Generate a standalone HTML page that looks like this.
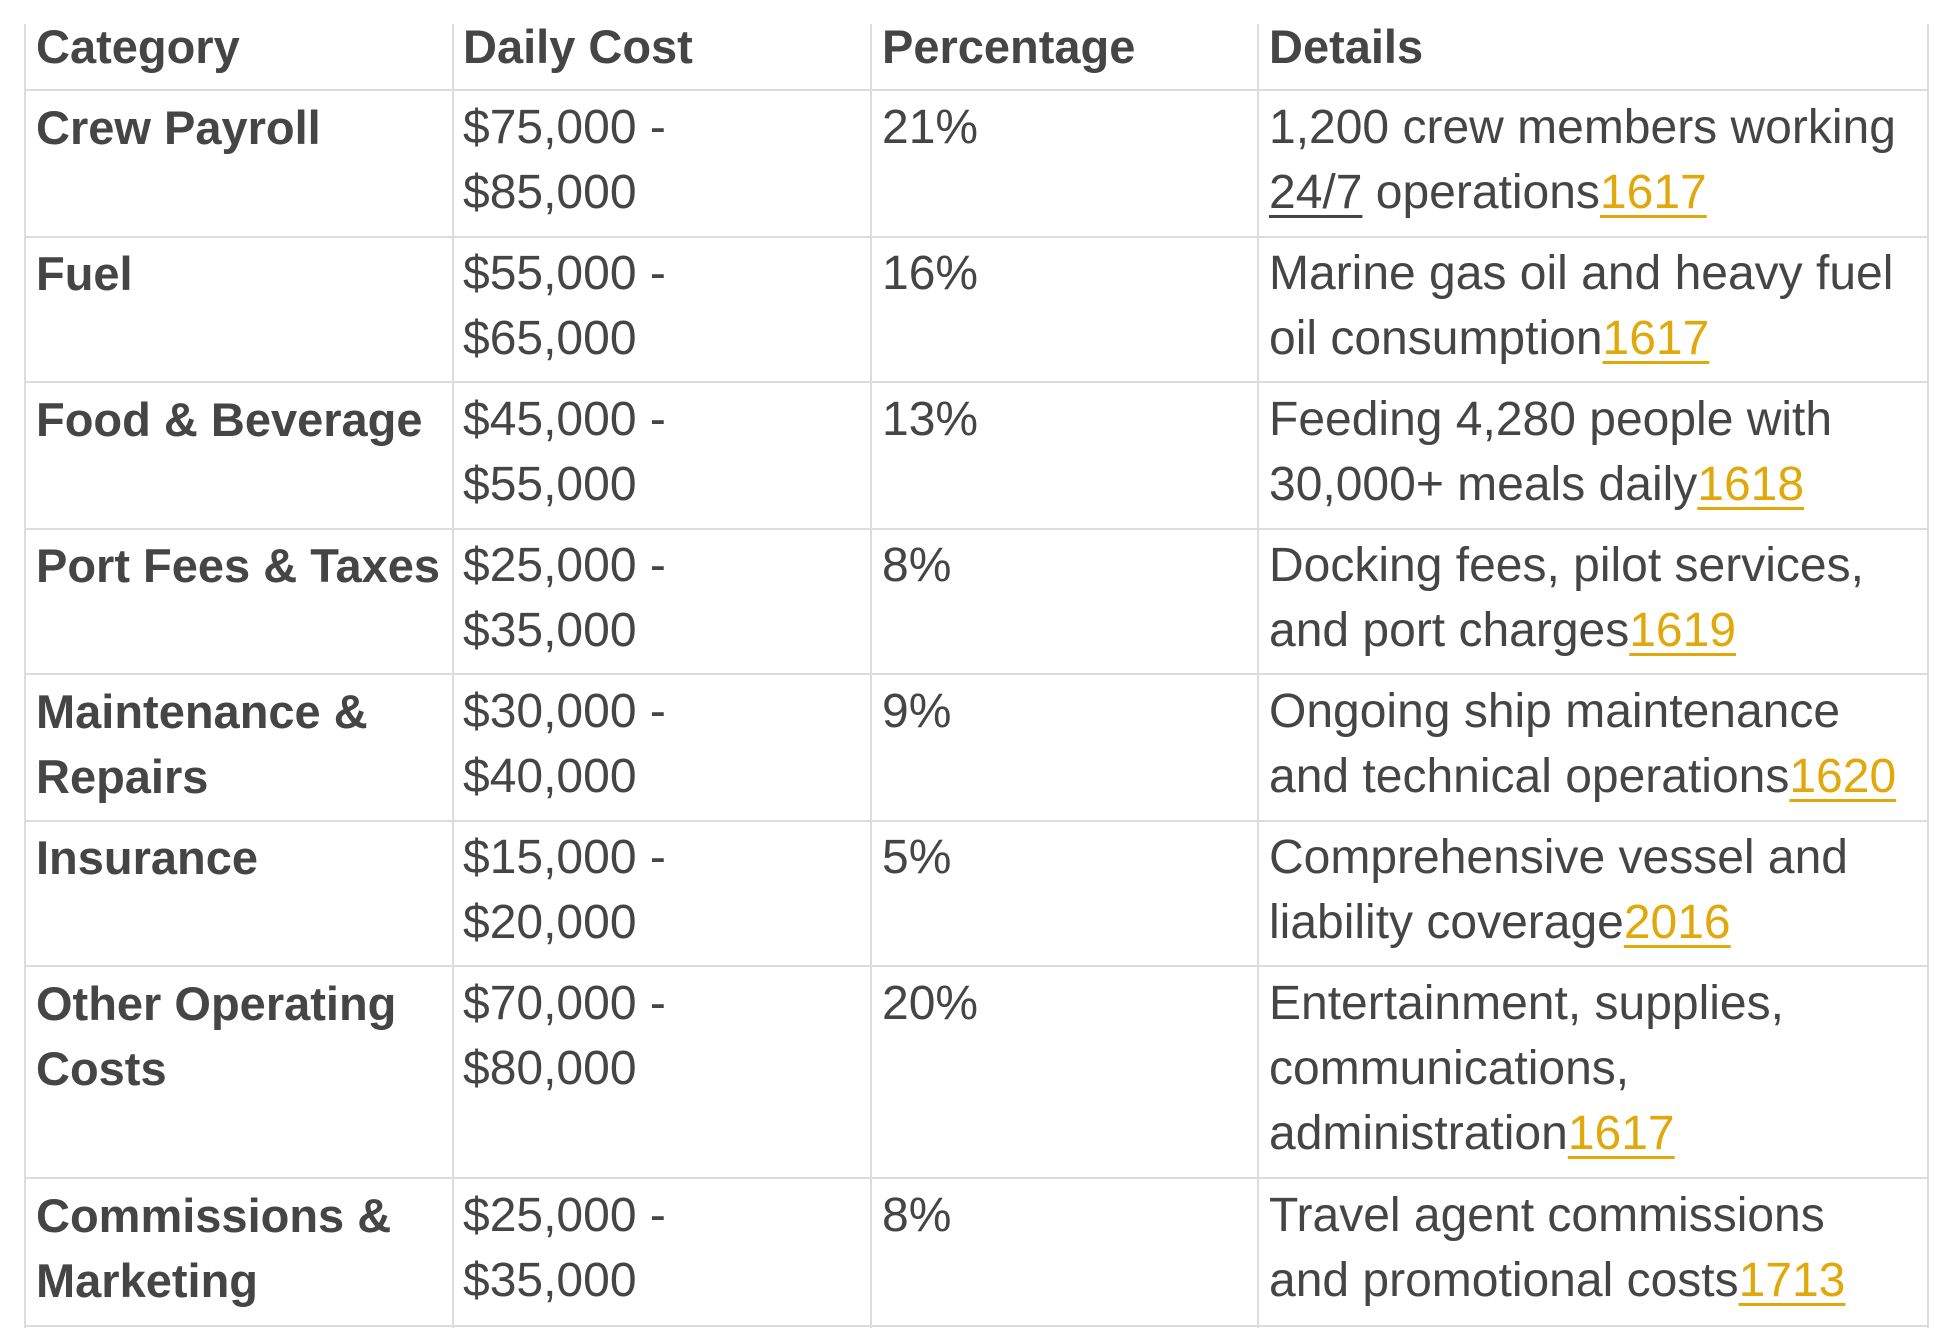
<!DOCTYPE html>
<html><head><meta charset="utf-8"><style>
body{margin:0;width:1948px;height:1328px;background:#fff;position:relative;overflow:hidden;font-family:"Liberation Sans",sans-serif;color:#454545}
.h{position:absolute;height:2px;background:#dcdcdc;left:25px;width:1903px}
.v{position:absolute;width:2px;background:#dcdcdc;top:24px;height:1304px}
.c{position:absolute;font-size:48px;line-height:65px;white-space:nowrap}
.b{font-weight:bold;font-size:47px}
.r{color:#e0a80a;text-decoration:underline;text-decoration-thickness:3px;text-underline-offset:7px}
.u{text-decoration:underline;text-decoration-thickness:3px;text-underline-offset:7px}
</style></head><body>
<div class="v" style="left:24px"></div>
<div class="v" style="left:452px"></div>
<div class="v" style="left:870px"></div>
<div class="v" style="left:1257px"></div>
<div class="v" style="left:1927px"></div>
<div class="h" style="top:89px"></div>
<div class="h" style="top:236px"></div>
<div class="h" style="top:381px"></div>
<div class="h" style="top:528px"></div>
<div class="h" style="top:673px"></div>
<div class="h" style="top:820px"></div>
<div class="h" style="top:965px"></div>
<div class="h" style="top:1177px"></div>
<div class="h" style="top:1325px"></div>

<div class="c b" style="left:36px;top:14px">Category</div>
<div class="c b" style="left:463px;top:14px">Daily Cost</div>
<div class="c b" style="left:882px;top:14px">Percentage</div>
<div class="c b" style="left:1269px;top:14px">Details</div>

<div class="c b" style="left:36px;top:95px">Crew Payroll</div>
<div class="c" style="left:463px;top:95px">$75,000 -<br>$85,000</div>
<div class="c" style="left:882px;top:95px">21%</div>
<div class="c" style="left:1269px;top:95px">1,200 crew members working<br><span class="u">24/7</span> operations<span class="r">1617</span></div>

<div class="c b" style="left:36px;top:241px">Fuel</div>
<div class="c" style="left:463px;top:241px">$55,000 -<br>$65,000</div>
<div class="c" style="left:882px;top:241px">16%</div>
<div class="c" style="left:1269px;top:241px">Marine gas oil and heavy fuel<br>oil consumption<span class="r">1617</span></div>

<div class="c b" style="left:36px;top:387px">Food &amp; Beverage</div>
<div class="c" style="left:463px;top:387px">$45,000 -<br>$55,000</div>
<div class="c" style="left:882px;top:387px">13%</div>
<div class="c" style="left:1269px;top:387px">Feeding 4,280 people with<br>30,000+ meals daily<span class="r">1618</span></div>

<div class="c b" style="left:36px;top:533px">Port Fees &amp; Taxes</div>
<div class="c" style="left:463px;top:533px">$25,000 -<br>$35,000</div>
<div class="c" style="left:882px;top:533px">8%</div>
<div class="c" style="left:1269px;top:533px">Docking fees, pilot services,<br>and port charges<span class="r">1619</span></div>

<div class="c b" style="left:36px;top:679px">Maintenance &amp;<br>Repairs</div>
<div class="c" style="left:463px;top:679px">$30,000 -<br>$40,000</div>
<div class="c" style="left:882px;top:679px">9%</div>
<div class="c" style="left:1269px;top:679px">Ongoing ship maintenance<br>and technical operations<span class="r">1620</span></div>

<div class="c b" style="left:36px;top:825px">Insurance</div>
<div class="c" style="left:463px;top:825px">$15,000 -<br>$20,000</div>
<div class="c" style="left:882px;top:825px">5%</div>
<div class="c" style="left:1269px;top:825px">Comprehensive vessel and<br>liability coverage<span class="r">2016</span></div>

<div class="c b" style="left:36px;top:971px">Other Operating<br>Costs</div>
<div class="c" style="left:463px;top:971px">$70,000 -<br>$80,000</div>
<div class="c" style="left:882px;top:971px">20%</div>
<div class="c" style="left:1269px;top:971px">Entertainment, supplies,<br>communications,<br>administration<span class="r">1617</span></div>

<div class="c b" style="left:36px;top:1183px">Commissions &amp;<br>Marketing</div>
<div class="c" style="left:463px;top:1183px">$25,000 -<br>$35,000</div>
<div class="c" style="left:882px;top:1183px">8%</div>
<div class="c" style="left:1269px;top:1183px">Travel agent commissions<br>and promotional costs<span class="r">1713</span></div>
</body></html>
